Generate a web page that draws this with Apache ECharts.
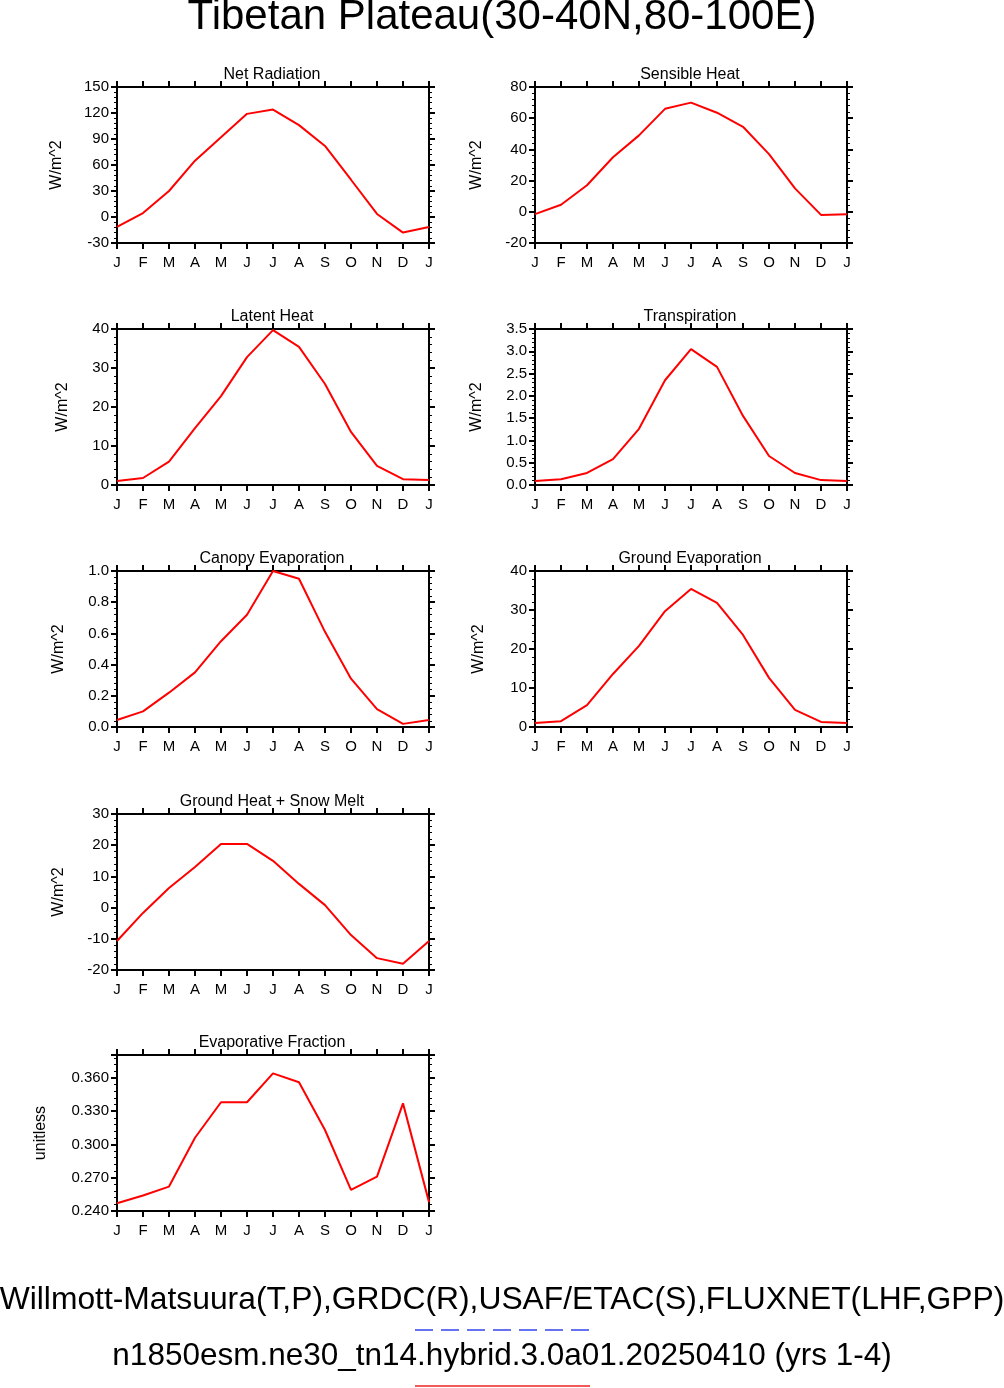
<!DOCTYPE html>
<html><head><meta charset="utf-8">
<script src="https://cdn.jsdelivr.net/npm/echarts@6/dist/echarts.min.js"></script>
<style>body{margin:0;background:#fff}#c{width:1004px;height:1388px}</style>
</head><body><div id="c"></div>
<script>
var months=["J","F","M","A","M","J","J","A","S","O","N","D","J"];
var netRad=[-11.5,4.6,30,65,92,119,124,106,82,43,3.5,-18,-11.5];
var sensible=[-1.5,4.5,17,35,49,66,70,63.5,54.5,37,15,-2,-1.5];
var latent=[1,1.8,6,14.6,22.8,32.8,39.7,35.4,25.9,13.6,4.9,1.5,1.3];
var transp=[0.09,0.13,0.27,0.58,1.26,2.35,3.05,2.65,1.55,0.65,0.27,0.11,0.09];
var canopy=[0.045,0.1,0.22,0.35,0.55,0.72,1.0,0.95,0.61,0.31,0.115,0.02,0.045];
var ground=[1,1.5,5.6,13.6,20.8,29.7,35.4,31.8,23.6,12.6,4.4,1.3,1];
var gheat=[-10.7,-1.7,6.3,13,20.4,20.4,15,7.6,0.8,-8.8,-16.2,-18,-10.7];
var evfrac=[0.247,0.254,0.262,0.306,0.338,0.338,0.364,0.356,0.313,0.259,0.271,0.337,0.248];

var panels=[
 {t:"Net Radiation",d:netRad,min:-30,max:150,iv:30,u:"W/m^2",l:117,top:87,gap:52,dec:0},
 {t:"Sensible Heat",d:sensible,min:-20,max:80,iv:20,u:"W/m^2",l:535,top:87,gap:50,dec:0},
 {t:"Latent Heat",d:latent,min:0,max:40,iv:10,u:"W/m^2",l:117,top:329,gap:46,dec:0},
 {t:"Transpiration",d:transp,min:0,max:3.5,iv:0.5,u:"W/m^2",l:535,top:329,gap:50,dec:1},
 {t:"Canopy Evaporation",d:canopy,min:0,max:1,iv:0.2,u:"W/m^2",l:117,top:571,gap:50,dec:1},
 {t:"Ground Evaporation",d:ground,min:0,max:40,iv:10,u:"W/m^2",l:535,top:571,gap:48,dec:0},
 {t:"Ground Heat + Snow Melt",d:gheat,min:-20,max:30,iv:10,u:"W/m^2",l:117,top:814,gap:50,dec:0},
 {t:"Evaporative Fraction",d:evfrac,min:0.24,max:0.3806,iv:0.03,u:"unitless",l:117,top:1055,gap:68,dec:3}
];
var F="Liberation Sans, Arial, sans-serif";
var opt={animation:false,grid:[],xAxis:[],yAxis:[],series:[],title:[],
 graphic:[
  {type:"text",left:"center",top:-4,style:{text:"Tibetan Plateau(30-40N,80-100E)",font:"42px "+F,fill:"#000"}},
  {type:"text",left:"center",top:1284,style:{text:"Willmott-Matsuura(T,P),GRDC(R),USAF/ETAC(S),FLUXNET(LHF,GPP)",font:"31.8px "+F,fill:"#000"}},
  {type:"text",left:"center",top:1340,style:{text:"n1850esm.ne30_tn14.hybrid.3.0a01.20250410 (yrs 1-4)",font:"31.5px "+F,fill:"#000"}},
  {type:"line",shape:{x1:415,y1:1330,x2:590,y2:1330},style:{stroke:"#3344ee",lineWidth:1.5,lineDash:[18,8]}},
  {type:"line",shape:{x1:415,y1:1386,x2:590,y2:1386},style:{stroke:"#ee2222",lineWidth:1.5}}
 ]};
panels.forEach(function(p,i){
 opt.grid.push({left:p.l,top:p.top,width:312,height:156});
 opt.title.push({text:p.t,left:p.l+150,top:p.top-25,textAlign:"center",textStyle:{fontFamily:F,fontSize:16,fontWeight:"normal",color:"#000"}});
 var ax={type:"category",gridIndex:i,data:months,boundaryGap:false,
  axisLine:{onZero:false,lineStyle:{color:"#000",width:2}},axisTick:{length:6,lineStyle:{width:2}},
  axisLabel:{color:"#000",fontFamily:F,fontSize:15,margin:12},splitLine:{show:false}};
 opt.xAxis.push(ax);
 opt.xAxis.push(Object.assign({},ax,{position:"top",axisLabel:{show:false}}));
 var ay={type:"value",gridIndex:i,min:p.min,max:p.max,interval:p.iv,name:p.u,nameLocation:"middle",nameGap:p.gap,
  nameTextStyle:{fontFamily:F,fontSize:16,color:"#000"},
  axisLine:{show:true,onZero:false,lineStyle:{color:"#000",width:2}},axisTick:{show:true,length:6,lineStyle:{width:2}},
  minorTick:{show:true,splitNumber:5,length:3,lineStyle:{color:"#000"}},
  axisLabel:{color:"#000",fontFamily:F,fontSize:15,showMaxLabel:p.t!="Evaporative Fraction",
   formatter:(function(dec){return function(v){return v.toFixed(dec);};})(p.dec)},
  splitLine:{show:false}};
 opt.yAxis.push(ay);
 opt.yAxis.push(Object.assign({},ay,{position:"right",name:"",axisLabel:{show:false}}));
 opt.series.push({type:"line",xAxisIndex:2*i,yAxisIndex:2*i,data:p.d,showSymbol:false,
  lineStyle:{color:"#ff0000",width:2},clip:false});
});
echarts.init(document.getElementById("c")).setOption(opt);
</script></body></html>
